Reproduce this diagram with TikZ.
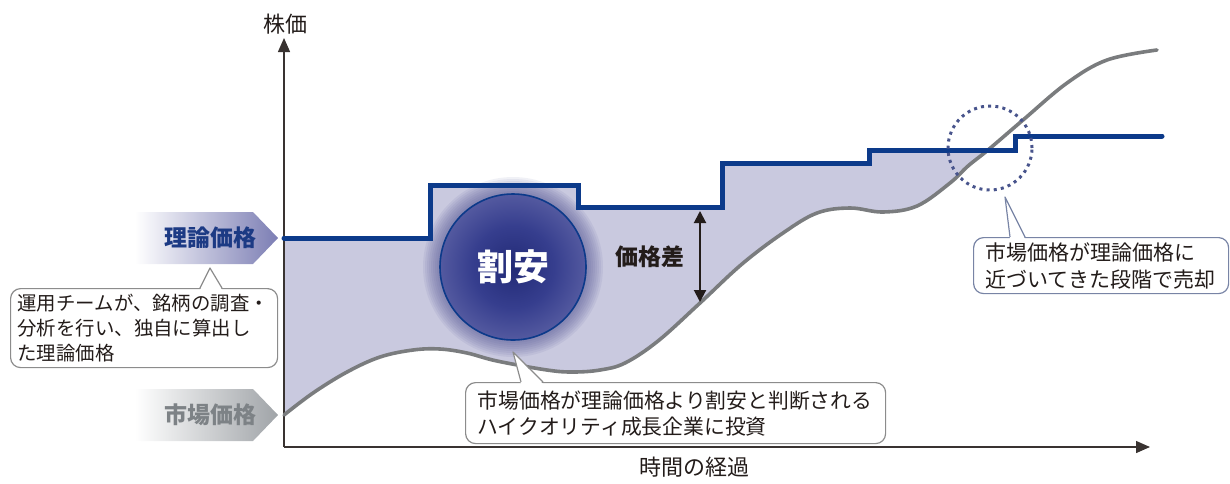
\documentclass[tikz,border=0pt]{standalone}
\usepackage{fontspec}
\setmainfont{Noto Sans CJK JP}
\usetikzlibrary{arrows.meta,calc}
\definecolor{navy}{RGB}{12,58,138}
\definecolor{mgray}{RGB}{122,124,126}
\definecolor{lav}{RGB}{201,201,223}
\definecolor{ink}{RGB}{35,28,26}
\definecolor{wC}{RGB}{34,42,118}
\definecolor{wM}{RGB}{54,62,142}
\definecolor{wN}{RGB}{108,112,174}
\definecolor{wE}{RGB}{190,190,220}
\definecolor{glowc}{RGB}{70,72,140}
\definecolor{bannerP}{RGB}{124,126,180}
\definecolor{bannerG}{RGB}{160,164,168}
\definecolor{theoTxt}{RGB}{28,58,132}
\definecolor{mktTxt}{RGB}{125,130,134}
\definecolor{cbord}{RGB}{140,140,140}
\definecolor{cbordB}{RGB}{120,132,165}
\definecolor{dotc}{RGB}{72,84,140}
\pgfdeclareradialshading{warishade}{\pgfpoint{0bp}{0bp}}{color(0bp)=(wC); color(14bp)=(wM); color(34bp)=(wN); color(50bp)=(wE)}
\def\mktpath{plot[smooth,tension=0.6] coordinates {(284,415) (313,393) (347,372) (380,357) (413,350) (440,349) (467,353) (497,361) (547,370) (573,372) (600,370) (625,363) (658,341) (700,303) (742,264) (783,233) (817,213) (850,208) (883,212) (917,206) (950,183) (968,166) (988,150) (1023,120) (1067,83) (1107,60) (1157,50)}}
\begin{document}
\begin{tikzpicture}[x=1pt,y=-1pt,
  blueline/.style={draw=navy, line width=5pt, line cap=round, line join=miter},
  mktline/.style={draw=mgray, line width=3.6pt, line cap=round},
  axisline/.style={draw=ink!90, line width=1.4pt, -{Triangle[length=14pt,width=12pt]}},
  gaparrow/.style={draw=ink, line width=2pt, {Triangle[length=12pt,width=12pt]}-{Triangle[length=12pt,width=12pt]}},
  callout/.style={draw=cbord, line width=1.2pt, fill=white, rounded corners=10pt, inner ysep=0pt, anchor=north west, text=ink, align=left},
  pointer/.style={draw=cbord, line width=1.2pt, line join=round},
  lbl/.style={text=ink, inner sep=0pt}
]
\useasboundingbox (0,0) rectangle (1230,483);

% shaded gap region
\begin{scope}
  \clip (284,238) -- (430,238) -- (430,185) -- (578,185) -- (578,207) -- (722,207) -- (722,163) -- (869,163) -- (869,150) -- (1000,150) -- (1000,470) -- (284,470) -- cycle;
  \fill[lav] \mktpath -- (1157,0) -- (284,0) -- cycle;
\end{scope}

% glow of the circle
\begin{scope}
  \clip \mktpath -- (1157,0) -- (284,0) -- cycle;
  \foreach \r in {74,76,...,90} \fill[glowc, fill opacity=0.08] (513,267) circle (\r pt);
\end{scope}

% circle
\node[circle, minimum size=146pt, inner sep=0pt, draw=navy, line width=1.6pt, shading=warishade, text=white, font=\bfseries\fontsize{36}{40}\selectfont] (wari) at (513,267) {割安};

% axes
\coordinate (O) at (284,447);
\coordinate (ytip) at (284,38);
\coordinate (xtip) at (1150,447);
\draw[axisline] (O) -- (ytip);
\draw[axisline] (O) -- (xtip);

% market price curve
\draw[mktline] \mktpath;

% theoretical price line
\coordinate (theoStart) at (284,238);
\coordinate (theoEnd) at (1162,136);
\draw[blueline] (theoStart) -- (430,238) -- (430,185) -- (578,185) -- (578,207) -- (722,207) -- (722,163) -- (869,163) -- (869,150) -- (1015,150) -- (1015,136) -- (theoEnd);

% price gap arrow
\coordinate (gapTop) at (700,211);
\coordinate (gapBot) at (700,302);
\draw[gaparrow] (gapTop) -- (gapBot);
\node[lbl, font=\bfseries\fontsize{23}{26}\selectfont] (gapLbl) at (650,257) {価格差};

% dotted circle
\node[circle, minimum size=84pt, inner sep=0pt, draw=dotc, line width=3pt, dash pattern=on 3pt off 4.2pt] (sellC) at (990,148) {};

% axis labels
\node[lbl, font=\fontsize{22}{26}\selectfont] (yLbl) at (285,24) {株価};
\node[lbl, font=\fontsize{22}{26}\selectfont] (xLbl) at (694,467) {時間の経過};

% banners
\shade[left color=white, right color=bannerP] (135,212) -- (253,212) -- (278,238) -- (253,264) -- (135,264) -- cycle;
\node[inner sep=0pt, text=theoTxt, font=\bfseries\fontsize{23}{26}\selectfont] (theoLbl) at (210,238) {理論価格};
\shade[left color=white, right color=bannerG] (135,389) -- (253,389) -- (278,415) -- (253,441) -- (135,441) -- cycle;
\node[inner sep=0pt, text=mktTxt, font=\bfseries\fontsize{23}{26}\selectfont] (mktLbl) at (210,415) {市場価格};

% left callout
\node[callout, text width=253pt, minimum height=79pt, inner xsep=7pt, font=\fontsize{19.4}{25}\selectfont] (cL) at (10,288) {運用チームが、銘柄の調査・\\分析を行い、独自に算出し\\た理論価格};
\coordinate (pLa) at (200,288);
\coordinate (pLb) at (222,288);
\coordinate (pLtip) at (210,268);
\fill[white] ($(pLa)+(0,2)$) -- (pLtip) -- ($(pLb)+(0,2)$) -- cycle;
\draw[pointer] (pLa) -- (pLtip) -- (pLb);

% middle callout
\node[callout, text width=396pt, minimum height=61pt, inner xsep=12pt, font=\fontsize{20.8}{26}\selectfont] (cM) at (465,382) {市場価格が理論価格より割安と判断される\\ハイクオリティ成長企業に投資};
\coordinate (pMa) at (521,382);
\coordinate (pMb) at (543,382);
\coordinate (pMtip) at (513,352);
\fill[white] ($(pMa)+(0,2)$) -- (pMtip) -- ($(pMb)+(0,2)$) -- cycle;
\draw[pointer] (pMa) -- (pMtip) -- (pMb);

% right callout
\node[callout, draw=cbordB, text width=231pt, minimum height=56pt, inner xsep=12pt, font=\fontsize{21}{27}\selectfont] (cR) at (973,237) {市場価格が理論価格に\\近づいてきた段階で売却};
\coordinate (pRa) at (1010,237);
\coordinate (pRb) at (1025,237);
\coordinate (pRtip) at (1005,197);
\fill[white] ($(pRa)+(0,2)$) -- (pRtip) -- ($(pRb)+(0,2)$) -- cycle;
\draw[pointer, draw=cbordB] (pRa) -- (pRtip) -- (pRb);
\end{tikzpicture}
\end{document}
